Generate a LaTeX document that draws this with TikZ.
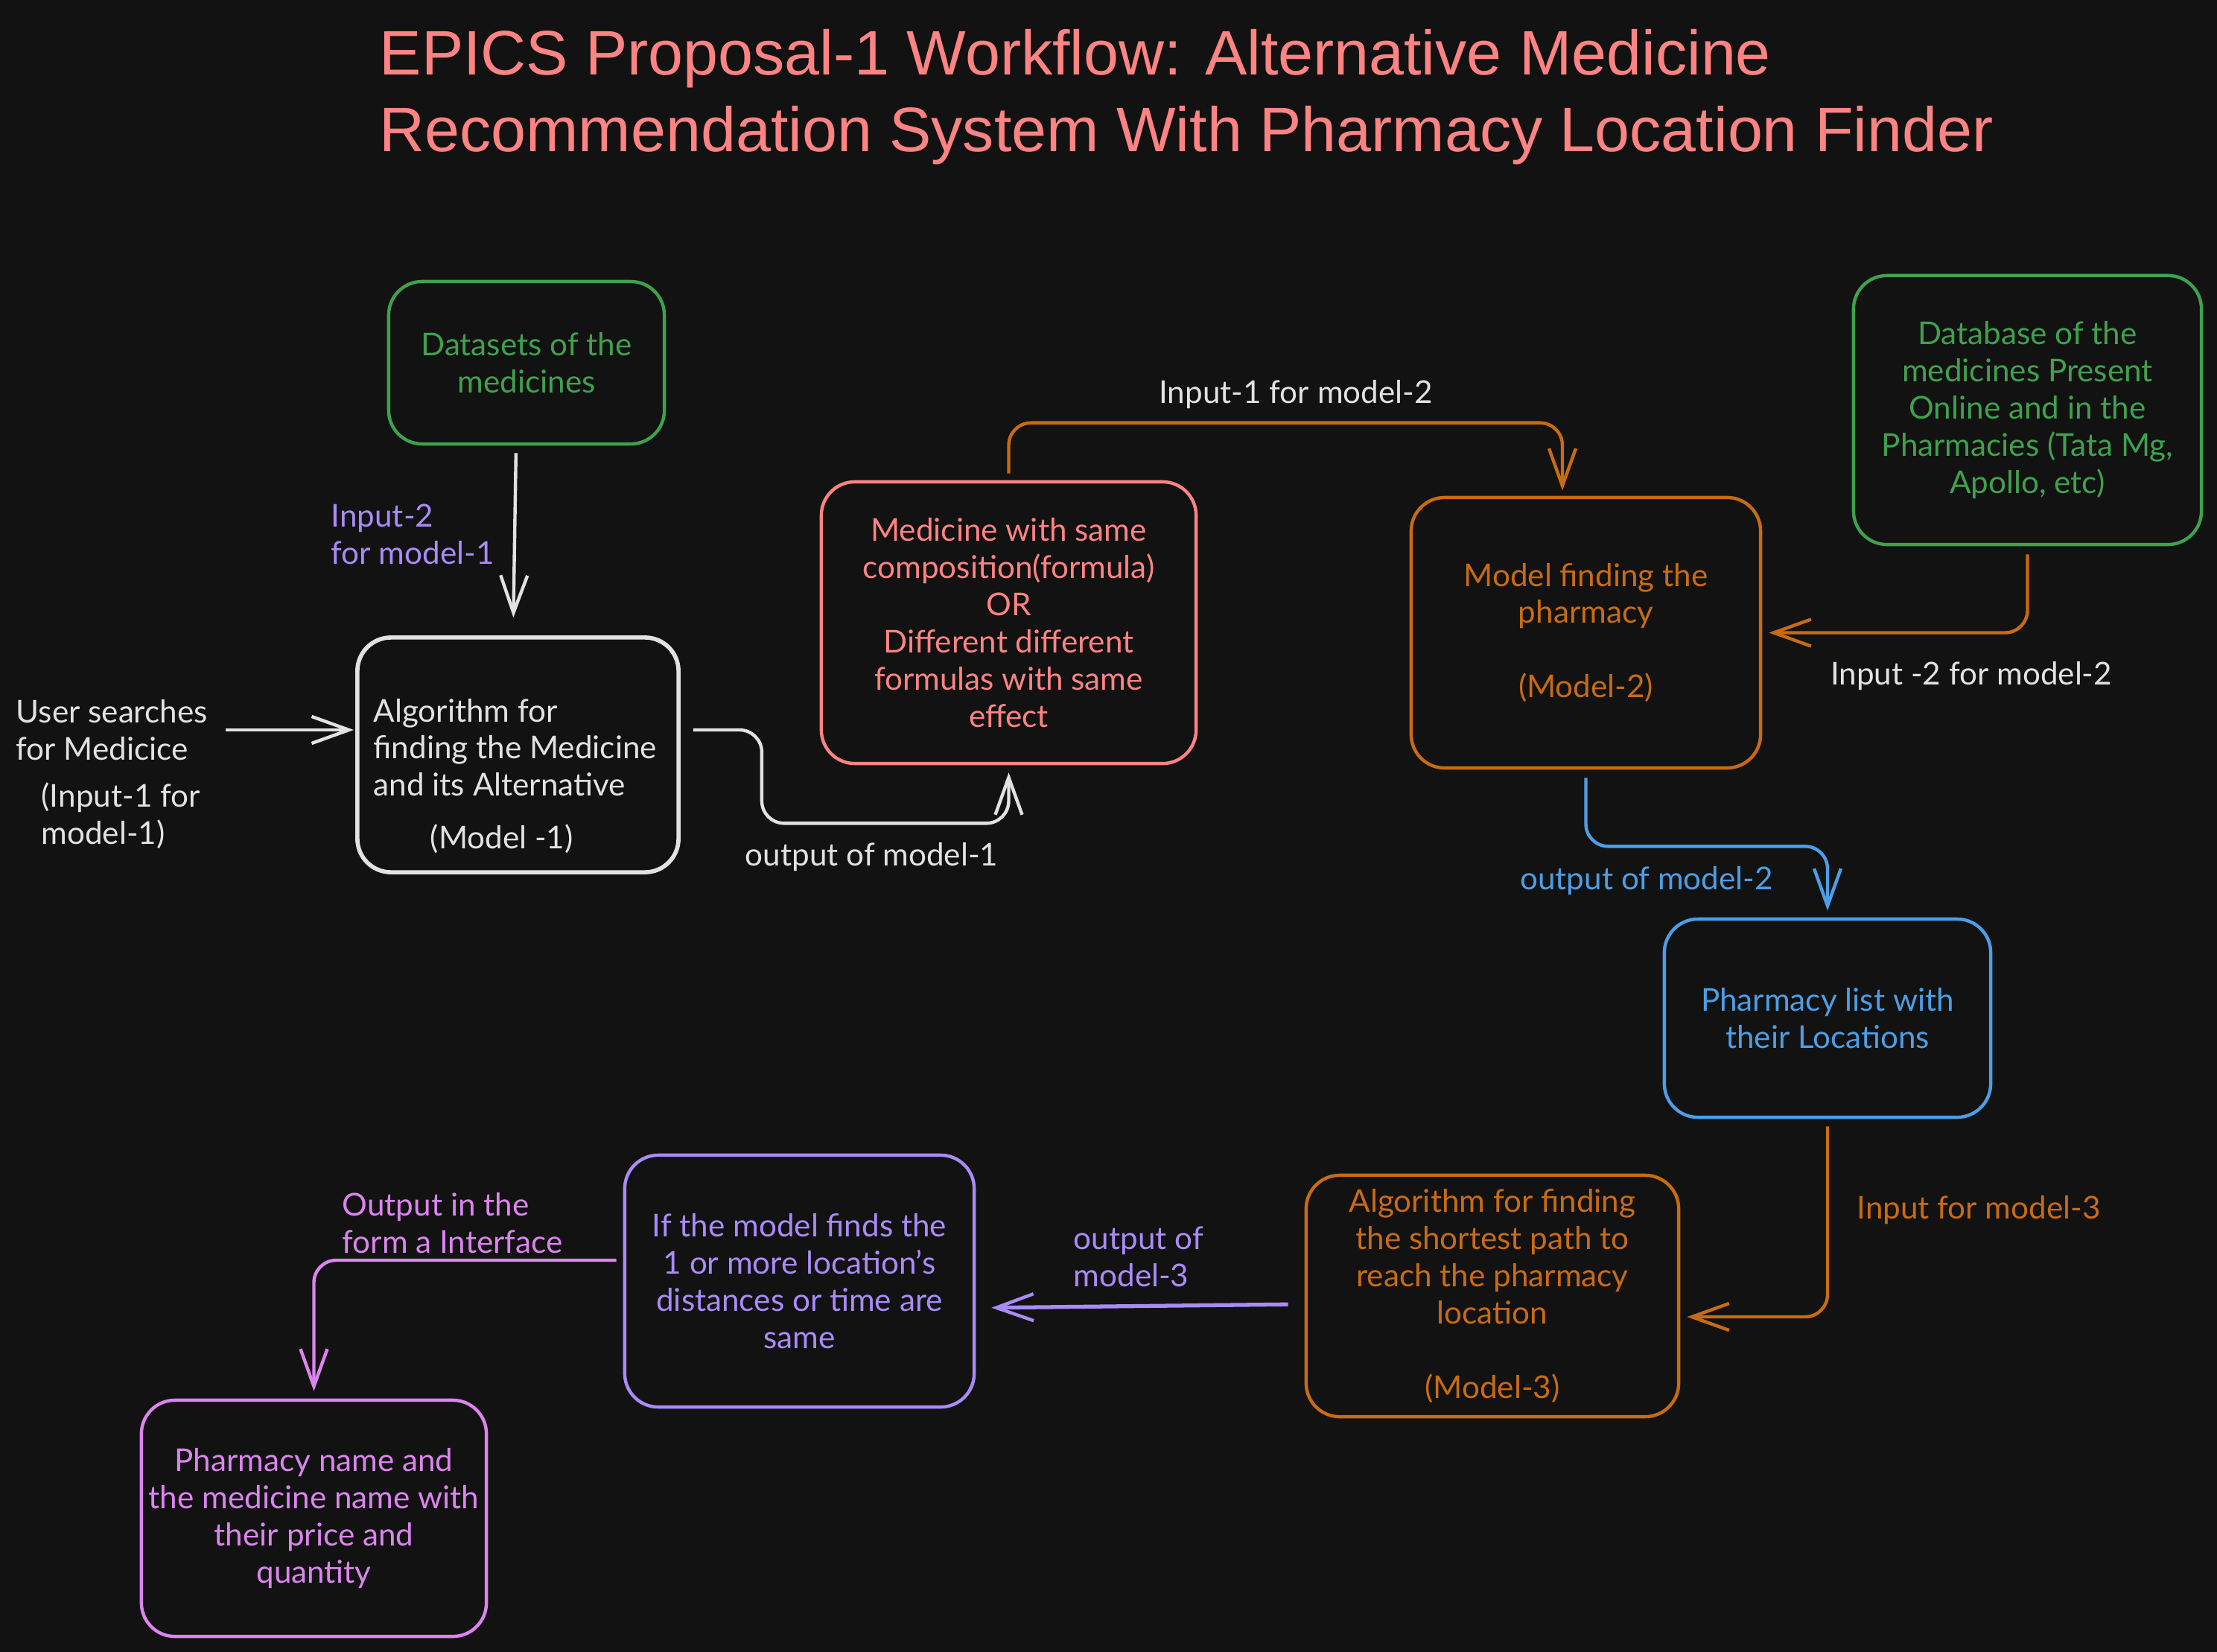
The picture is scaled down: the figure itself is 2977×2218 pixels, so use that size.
\documentclass[tikz,border=0pt]{standalone}
\usepackage{fontspec}
\setmainfont{Lato}
\newfontfamily\titlefont{Liberation Sans}
\usetikzlibrary{arrows.meta}

\definecolor{bg}{HTML}{121212}
\definecolor{salmon}{HTML}{FF8383}
\definecolor{leaf}{HTML}{3FA14D}
\definecolor{chalk}{HTML}{E2E2E2}
\definecolor{amber}{HTML}{C96B12}
\definecolor{sky}{HTML}{4C9EE6}
\definecolor{violet}{HTML}{A98BF8}
\definecolor{orchid}{HTML}{DC84EE}

\begin{document}
\begin{tikzpicture}[x=0.01cm,y=-0.01cm,
  hand/.style={font=\fontsize{12}{14.2}\selectfont},
  box/.style={hand, draw, line width=1.25pt, rounded corners=0.45cm,
    align=center, inner sep=0pt},
  lbl/.style={hand, inner sep=0pt, align=left},
  link/.style={line width=1.25pt, rounded corners=0.3cm,
    -{Straight Barb[length=0.5cm,width=0.36cm,line width=1.25pt]}},
]
% canvas
\fill[bg] (0,0) rectangle (2977,2218);
\useasboundingbox (0,0) rectangle (2977,2218);

% title
\node[anchor=west, inner sep=0pt, align=left, text=salmon,
  font=\titlefont\fontsize{24}{29.2}\selectfont] (title) at (509,130)
  {EPICS Proposal-1 Workflow: Alternative Medicine\\Recommendation System With Pharmacy Location Finder};

% boxes
\node[box, draw=leaf, text=leaf, minimum width=3.70cm, minimum height=2.18cm]
  (ds) at (707,487) {Datasets of the\\medicines};

\node[box, draw=chalk, line width=1.6pt, minimum width=4.31cm, minimum height=3.15cm]
  (m1) at (695.5,1013.5) {};
\node[lbl, text=chalk, anchor=west] (m1t) at (501,1042)
  {Algorithm for\\finding the Medicine\\and its Alternative\\[6pt]\hspace*{0.76cm}(Model -1)};

\node[box, draw=salmon, text=salmon, minimum width=5.03cm, minimum height=3.78cm]
  (med) at (1354.5,836) {Medicine with same\\composition(formula)\\OR\\Different different\\formulas with same\\effect};

\node[box, draw=amber, text=amber, minimum width=4.69cm, minimum height=3.63cm]
  (m2) at (2129.5,849.5) {Model finding the\\pharmacy\\[14.2pt](Model-2)};

\node[box, draw=leaf, text=leaf, minimum width=4.67cm, minimum height=3.61cm]
  (db) at (2722.5,550.5) {Database of the\\medicines Present\\Online and in the\\Pharmacies (Tata Mg,\\Apollo, etc)};

\node[box, draw=sky, text=sky, minimum width=4.38cm, minimum height=2.66cm]
  (pl) at (2454,1367) {Pharmacy list with\\their Locations};

\node[box, draw=amber, text=amber, minimum width=5.00cm, minimum height=3.24cm]
  (m3) at (2004,1740) {Algorithm for finding\\the shortest path to\\reach the pharmacy\\location\\[14.2pt](Model-3)};

\node[box, draw=violet, text=violet, minimum width=4.69cm, minimum height=3.38cm]
  (if) at (1073.5,1720) {If the model finds the\\1 or more location's\\distances or time are\\same};

\node[box, draw=orchid, text=orchid, minimum width=4.63cm, minimum height=3.17cm]
  (pn) at (421.5,2038.5) {Pharmacy name and\\the medicine name with\\their price and\\quantity};

% free labels
\node[lbl, text=chalk, anchor=west] (usr) at (21,980) {User searches\\for Medicice};
\node[lbl, text=chalk, anchor=west] (in1) at (55,1095) {(Input-1 for\\model-1)};
\node[lbl, text=violet, anchor=west] (in2) at (444,717) {Input-2\\for model-1};
\node[lbl, text=chalk, anchor=west] (out1) at (1000,1151) {output of model-1};
\node[lbl, text=chalk] (in12) at (1740,530) {Input-1 for model-2};
\node[lbl, text=chalk] (in22) at (2647,908) {Input -2 for model-2};
\node[lbl, text=sky] (out2) at (2211,1183) {output of model-2};
\node[lbl, text=amber] (in3) at (2657,1625) {Input for model-3};
\node[lbl, text=violet, anchor=west] (out3) at (1441,1687) {output of\\model-3};
\node[lbl, text=orchid, anchor=west] (outi) at (459,1642) {Output in the\\form a Interface};

% connectors
\draw[link, chalk, shorten <=0.1cm, shorten >=0.24cm]
  ([xshift=-0.14cm]ds.south) -- ([xshift=-0.065cm]m1.north);
\draw[link, chalk, shorten <=0.24cm, shorten >=0.02cm]
  (usr.east) -- (usr.east -| m1.west);
\draw[link, chalk, shorten <=0.17cm, shorten >=0.1cm]
  ([yshift=0.335cm]m1.east) -- ++(109,0) |- ([yshift=-0.78cm]med.south) -- (med.south);
\draw[link, amber, shorten <=0.09cm, shorten >=0.07cm]
  (med.north) -- ++(0,-77) -| ([xshift=-0.315cm]m2.north);
\draw[link, amber, shorten <=0.11cm, shorten >=0.09cm]
  (db.south) |- (m2.east);
\draw[link, sky, shorten <=0.11cm, shorten >=0.09cm]
  (m2.south) -- ++(0,103) -| (pl.north);
\draw[link, amber, shorten <=0.1cm, shorten >=0.09cm]
  (pl.south) |- ([yshift=-0.28cm]m3.east);
\draw[link, violet, line width=1.5pt, shorten <=0.22cm, shorten >=0.21cm]
  ([yshift=-0.11cm]m3.west) -- ([yshift=-0.36cm]if.east);
\draw[link, orchid, shorten <=0.09cm, shorten >=0.1cm]
  ([yshift=0.28cm]if.west) -| (pn.north);
\end{tikzpicture}
\end{document}
